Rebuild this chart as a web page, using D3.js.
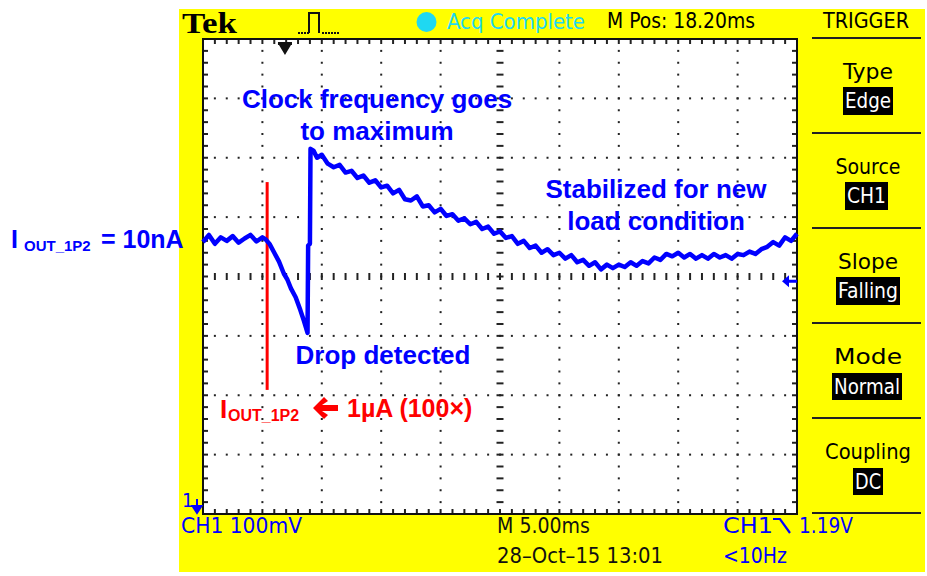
<!DOCTYPE html>
<html><head><meta charset="utf-8">
<script src="https://cdn.jsdelivr.net/npm/d3@7"></script>
<style>body{margin:0;background:#fff}svg{display:block}</style>
</head><body><svg id="c" width="927" height="576"></svg>
<script>
// ---------- data ----------
// time in ms (5 ms/div, 10 div), CH1 voltage in mV above ground marker (100 mV/div, 8 div)
const tTrace = [0,0.5,1,1.5,2,2.5,3,3.5,4,4.5,5,5.3,5.6,6,6.4,6.8,7.1,7.4,7.8,8.2,8.5,8.8,8.85,9.0,9.05,
  9.3,9.6,10,10.5,11,11.5,12,12.5,13,13.5,14,14.5,15,15.5,16,16.5,17,17.5,18,18.5,19,19.5,20,20.5,21,21.5,
  22,22.5,23,23.5,24,24.5,25,25.5,26,26.5,27,27.5,28,28.5,29,29.5,30,30.5,31,31.5,32,32.5,33,33.5,34,34.5,
  35,35.5,36,36.5,37,37.5,38,38.5,39,39.5,40,40.5,41,41.5,42,42.5,43,43.5,44,44.5,45,45.5,46,46.5,47,47.5,
  48,48.5,49,49.5,50];
const vTrace = [458,470,455,466,460,468,457,464,470,459,466,462,455,440,425,405,395,380,365,343,325,305,452,455,615,
  612,600,605,590,584,588,575,578,566,570,558,562,550,553,540,546,530,528,535,518,520,508,514,502,505,494,
  498,488,492,480,484,472,476,465,468,455,460,448,452,440,446,436,440,430,436,424,428,418,424,412,420,414,
  420,416,424,418,426,422,432,428,438,434,440,432,438,430,436,430,438,432,436,430,438,436,442,438,446,450,
  458,452,466,460,472];
const dropMarkerT = 5.4;            // red marker (ms)
const dropMarkerV = [209, 559];     // mV extent
const triggerLevel = 392;           // mV
const triggerPosT = 6.9;            // ms
const headerTexts = ["Tek", "Acq Complete", "M Pos: 18.20ms", "TRIGGER"];
const menuTitles = ["Type", "Source", "Slope", "Mode", "Coupling"];
const menuValues = ["Edge", "CH1", "Falling", "Normal", "DC"];
const footerTexts = ["CH1  100mV", "M 5.00ms", "28\u2013Oct\u201315 13:01", "CH1", "1.19V", "<10Hz"];
const annotations = ["Clock frequency goes", "to maximum", "Stabilized for new", "load condition", "Drop detected"];

// ---------- layout ----------
const svg = d3.select("#c");
const x = d3.scaleLinear().domain([0, 50]).range([203, 797]);
const y = d3.scaleLinear().domain([0, 800]).range([514, 39]);
const BLUE = "#0000ff", RED = "#ff0000", CYAN = "#1fd8f2";
const scopeFont = "'DejaVu Sans Condensed','DejaVu Sans',sans-serif";
const boldFont = "'Liberation Sans',Arial,sans-serif";

svg.append("rect").attr("x",179).attr("y",9).attr("width",746).attr("height",563).attr("fill","#ffff00");
svg.append("rect").attr("x",x(0)).attr("y",y(800)).attr("width",x(50)-x(0)).attr("height",y(0)-y(800))
  .attr("fill","#fff");

// graticule
const g = svg.append("g");
const minorT = d3.range(0, 50.001, 1), minorV = d3.range(0, 800.001, 20);
const majorT = d3.range(5, 50, 5).filter(d => d !== 25), majorV = d3.range(100, 800, 100).filter(d => d !== 400);
majorT.forEach(t => minorV.forEach(v => g.append("rect").attr("x", x(t)-1).attr("y", y(v)-1).attr("width",2).attr("height",2).attr("fill","#222")));
majorV.forEach(v => minorT.forEach(t => g.append("rect").attr("x", x(t)-1).attr("y", y(v)-1).attr("width",2).attr("height",2).attr("fill","#222")));
minorV.forEach(v => g.append("line").attr("x1", x(25)-3.5).attr("x2", x(25)+3.5).attr("y1", y(v)).attr("y2", y(v)).attr("stroke","#222").attr("stroke-width",2));
minorT.forEach(t => g.append("line").attr("x1", x(t)).attr("x2", x(t)).attr("y1", y(400)-3.5).attr("y2", y(400)+3.5).attr("stroke","#222").attr("stroke-width",2));
minorT.forEach(t => {
  g.append("line").attr("x1", x(t)).attr("x2", x(t)).attr("y1", y(800)).attr("y2", y(800)+5).attr("stroke","#222").attr("stroke-width",2);
  g.append("line").attr("x1", x(t)).attr("x2", x(t)).attr("y1", y(0)-5).attr("y2", y(0)).attr("stroke","#222").attr("stroke-width",2);
});
minorV.forEach(v => {
  g.append("line").attr("x1", x(0)).attr("x2", x(0)+5).attr("y1", y(v)).attr("y2", y(v)).attr("stroke","#222").attr("stroke-width",2);
  g.append("line").attr("x1", x(50)-5).attr("x2", x(50)).attr("y1", y(v)).attr("y2", y(v)).attr("stroke","#222").attr("stroke-width",2);
});
svg.append("rect").attr("x",x(0)).attr("y",y(800)).attr("width",x(50)-x(0)).attr("height",y(0)-y(800))
  .attr("fill","none").attr("stroke","#111").attr("stroke-width",2);

// trigger position marker (top)
const tp = x(triggerPosT);
svg.append("path").attr("d",`M${tp-7},${y(800)+3}H${tp+7}V${y(800)+6}H${tp-7}Z M${tp-6},${y(800)+6}L${tp},${y(800)+16}L${tp+6},${y(800)+6}Z`).attr("fill","#111");
// trigger level marker (right)
const tl = y(triggerLevel);
svg.append("path").attr("d",`M${x(50)-15},${tl}L${x(50)-8},${tl-6}V${tl-1.5}H${x(50)}V${tl+1.5}H${x(50)-8}V${tl+6}Z`).attr("fill",BLUE);

// red drop marker
svg.append("line").attr("x1", x(dropMarkerT)).attr("x2", x(dropMarkerT)).attr("y1", y(dropMarkerV[1])).attr("y2", y(dropMarkerV[0]))
  .attr("stroke", RED).attr("stroke-width", 3);

// waveform
const pts = tTrace.map((t, i) => [t, vTrace[i]]);
svg.append("path").attr("d", d3.line().x(d => x(d[0])).y(d => y(d[1]))(pts))
  .attr("fill","none").attr("stroke",BLUE).attr("stroke-width",4.5).attr("stroke-linejoin","round");

// header
svg.append("text").attr("x",182).attr("y",33).text(headerTexts[0])
  .attr("font-family","'Liberation Serif','Times New Roman',serif").attr("font-weight","bold").attr("font-size",30)
  .attr("textLength",55).attr("lengthAdjust","spacingAndGlyphs");
// pulse icon
svg.append("path").attr("d","M309,33V13H319V33").attr("fill","none").attr("stroke","#111").attr("stroke-width",2);
[298,301,304,307,322,325,328,331,334,337].forEach(px => svg.append("rect").attr("x",px).attr("y",32).attr("width",2).attr("height",2).attr("fill","#111"));
svg.append("circle").attr("cx",426.5).attr("cy",22).attr("r",10).attr("fill",CYAN);
svg.append("text").attr("x",447).attr("y",29).text(headerTexts[1]).attr("fill",CYAN)
  .attr("font-family",scopeFont).attr("font-size",22).attr("textLength",138).attr("lengthAdjust","spacingAndGlyphs");
svg.append("text").attr("x",607).attr("y",28).text(headerTexts[2])
  .attr("font-family",scopeFont).attr("font-size",22).attr("textLength",148).attr("lengthAdjust","spacingAndGlyphs");
svg.append("text").attr("x",823).attr("y",28).text(headerTexts[3])
  .attr("font-family",scopeFont).attr("font-size",22).attr("textLength",86).attr("lengthAdjust","spacingAndGlyphs");

// right menu
const sepY = [38, 133, 228, 323, 418, 513];
sepY.forEach(sy => svg.append("line").attr("x1",812).attr("x2",921).attr("y1",sy).attr("y2",sy).attr("stroke","#222").attr("stroke-width",2));
const menuBoxes = [[843,87,50,28],[845,182,43,28],[836,277,64,28],[832,373,70,27],[853,468,30,27]];
const menuTitleWidths = [50, 65, 60, 68, 86];
menuTitles.forEach((tt, i) => {
  const top = 38 + i*95;
  svg.append("text").attr("x",868).attr("y",top+41).attr("text-anchor","middle").text(tt)
    .attr("font-family",scopeFont).attr("font-size",22).attr("textLength",menuTitleWidths[i]).attr("lengthAdjust","spacingAndGlyphs");
  const b = menuBoxes[i];
  svg.append("rect").attr("x",b[0]).attr("y",b[1]).attr("width",b[2]).attr("height",b[3]).attr("fill","#000");
  svg.append("text").attr("x",b[0]+b[2]/2).attr("y",b[1]+21).attr("text-anchor","middle").text(menuValues[i]).attr("fill","#fff")
    .attr("font-family",scopeFont).attr("font-size",22).attr("textLength",b[2]-4).attr("lengthAdjust","spacingAndGlyphs");
});

// footer
svg.append("text").attr("x",182).attr("y",507).text("1").attr("fill",BLUE).attr("font-family",scopeFont).attr("font-size",20);
svg.append("path").attr("d","M197,499V510M192.5,506L197,513L201.5,506Z").attr("stroke",BLUE).attr("stroke-width",2).attr("fill",BLUE);
const ft = (s, px, py, w, col) => svg.append("text").attr("x",px).attr("y",py).text(s).attr("fill",col)
  .attr("font-family",scopeFont).attr("font-size",21).attr("textLength",w).attr("lengthAdjust","spacingAndGlyphs");
ft(footerTexts[0], 181, 533, 121, BLUE);
ft(footerTexts[1], 497, 533, 93, "#111");
ft(footerTexts[2], 497, 563, 166, "#111");
ft(footerTexts[3], 723, 533, 50, BLUE);
svg.append("path").attr("d","M773,519H780L790,533").attr("fill","none").attr("stroke",BLUE).attr("stroke-width",2.2);
ft(footerTexts[4], 799, 533, 54, BLUE);
ft(footerTexts[5], 723, 563, 64, BLUE);

// annotations
const ann = (s, px, py, anchor) => svg.append("text").attr("x",px).attr("y",py).attr("text-anchor",anchor).text(s)
  .attr("fill",BLUE).attr("font-family",boldFont).attr("font-weight","bold").attr("font-size",26);
ann(annotations[0], 377, 108, "middle");
ann(annotations[1], 377, 140, "middle");
ann(annotations[2], 656, 198, "middle");
ann(annotations[3], 656, 230, "middle");
ann(annotations[4], 383, 364, "middle");

// left label
const ll = svg.append("text").attr("y",248).attr("fill",BLUE).attr("font-family",boldFont).attr("font-weight","bold");
ll.append("tspan").attr("x",11).attr("font-size",25).text("I");
ll.append("tspan").attr("x",24).attr("y",251).attr("font-size",15).text("OUT_1P2");
ll.append("tspan").attr("x",101).attr("y",248).attr("font-size",25).text("= 10nA");

// red label
const rl = svg.append("text").attr("y",418).attr("fill",RED).attr("font-family",boldFont).attr("font-weight","bold");
rl.append("tspan").attr("x",220).attr("font-size",26).text("I");
rl.append("tspan").attr("x",228).attr("y",421).attr("font-size",16).text("OUT_1P2");
rl.append("tspan").attr("x",347).attr("y",417).attr("font-size",25).text("1\u00b5A (100\u00d7)");
svg.append("path").attr("d","M313,408L324,397L328,401L322,405H338V411H322L328,415L324,419Z").attr("fill",RED);
</script></body></html>
